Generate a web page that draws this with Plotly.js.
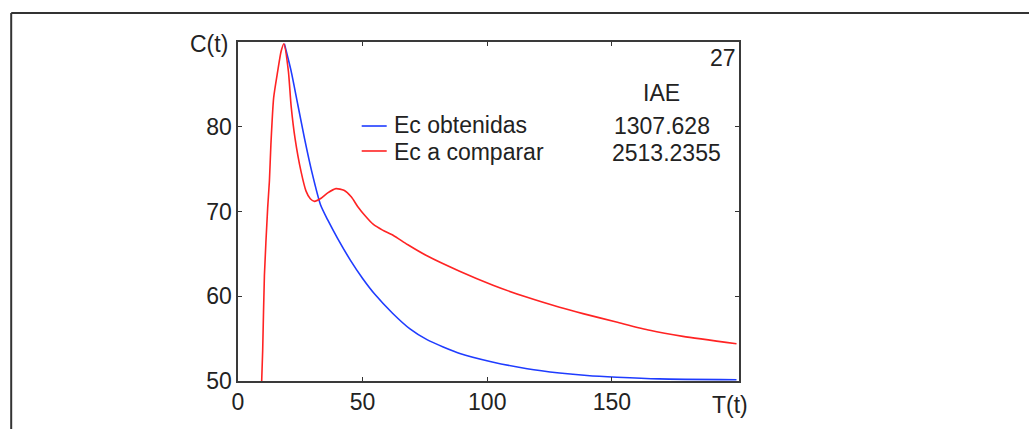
<!DOCTYPE html>
<html>
<head>
<meta charset="utf-8">
<script src="https://cdn.plot.ly/plotly-3.0.1.min.js"></script>
<style>
html,body{margin:0;padding:0;background:#fff;}
#chart{width:1029px;height:429px;}
</style>
</head>
<body>
<div id="chart"></div>
<script>
// Ec a comparar (red)
var redT = [9.5, 9.9, 10.6, 11.9, 12.6, 13.2, 14.3, 15.9, 17.3, 18.4, 20.2, 21.3, 22.9, 25.3, 27.3, 29.0, 30.7, 33.0, 36.0, 39.3, 42.5, 45.5, 48.0, 51.0, 54.2, 58.0, 62.2, 68.0, 75.6, 88.9, 102.3, 115.7, 129.0, 138.4, 151.8, 165.2, 178.5, 200.0];
var redC = [50.0, 53.6, 62.5, 70.4, 73.6, 77.9, 83.4, 86.5, 88.9, 89.8, 86.6, 82.5, 78.6, 74.7, 72.4, 71.5, 71.2, 71.5, 72.2, 72.7, 72.5, 71.7, 70.6, 69.5, 68.5, 67.8, 67.2, 66.1, 64.8, 62.95, 61.3, 59.9, 58.7, 57.95, 56.96, 55.98, 55.27, 54.4];
// Ec obtenidas (blue)
var blueT = [18.6, 21.3, 24.0, 26.7, 29.6, 33.1, 36.0, 40.0, 45.0, 50.0, 55.0, 62.0, 69.0, 76.0, 89.0, 102.0, 116.0, 129.0, 140.0, 152.0, 169.0, 200.0];
var blueC = [89.8, 86.6, 82.6, 78.6, 74.7, 70.8, 69.0, 66.8, 64.3, 62.1, 60.2, 58.0, 56.15, 54.85, 53.25, 52.25, 51.45, 50.95, 50.65, 50.45, 50.25, 50.15];

var seriesNames = ["Ec obtenidas", "Ec a comparar"];
var seriesColors = ["#1f3cff", "#ff2323"];
var iaeValues = ["1307.628", "2513.2355"];
var xTickVals = [0, 50, 100, 150];
var yTickVals = [50, 60, 70, 80, 90];
var yTickText = ["50", "60", "70", "80", ""];

var FONT = "Liberation Sans, Arial, Helvetica, sans-serif";
var TXT = "#222";

var traces = [
  {x: blueT, y: blueC, type: "scatter", mode: "lines", name: seriesNames[0],
   line: {color: seriesColors[0], width: 1.6, shape: "spline", smoothing: 0.6}},
  {x: redT, y: redC, type: "scatter", mode: "lines", name: seriesNames[1],
   line: {color: seriesColors[1], width: 1.6, shape: "spline", smoothing: 0.6}}
];

var ann = function (text, x, y, xa) {
  return {text: text, xref: "paper", yref: "paper", x: x, y: y, xanchor: xa,
          yanchor: "middle", showarrow: false, font: {family: FONT, size: 23, color: TXT}};
};

var layout = {
  width: 1029, height: 429,
  margin: {l: 238, r: 290, t: 42, b: 48, pad: 0},
  paper_bgcolor: "#fff", plot_bgcolor: "#fff",
  font: {family: FONT, size: 23, color: TXT},
  showlegend: false,
  xaxis: {range: [0, 201], tickvals: xTickVals, ticks: "inside", ticklen: 4,
          tickcolor: "#333", tickwidth: 1.2, showline: true, linecolor: "#3a3a3a",
          linewidth: 1.6, mirror: "ticks", showgrid: false, zeroline: false,
          tickfont: {family: FONT, size: 23, color: TXT}, fixedrange: true},
  yaxis: {range: [50, 90], tickvals: yTickVals, ticktext: yTickText, ticks: "inside",
          ticklen: 4, tickcolor: "#333", tickwidth: 1.2, showline: true,
          linecolor: "#3a3a3a", linewidth: 1.6, mirror: "ticks", showgrid: false,
          zeroline: false, tickfont: {family: FONT, size: 23, color: TXT}, fixedrange: true},
  annotations: [
    ann("C(t)", -0.016, 0.994, "right"),
    ann("T(t)", 0.9814, -0.071, "center"),
    ann("27", 0.998, 0.954, "right"),
    ann("IAE", 0.8447, 0.8487, "center"),
    ann(seriesNames[0], 0.3065, 0.7566, "left"),
    ann(seriesNames[1], 0.3065, 0.6755, "left"),
    ann(iaeValues[0], 0.746, 0.752, "left"),
    ann(iaeValues[1], 0.743, 0.6726, "left")
  ],
  shapes: [
    {type: "line", xref: "paper", yref: "paper", x0: 0.2469, x1: 0.2968, y0: 0.7522, y1: 0.7522, line: {color: seriesColors[0], width: 1.6}},
    {type: "line", xref: "paper", yref: "paper", x0: 0.2469, x1: 0.2968, y0: 0.6785, y1: 0.6785, line: {color: seriesColors[1], width: 1.6}},
    {type: "line", xref: "paper", yref: "paper", x0: -0.4527, x1: 1.6, y0: 1.0855, y1: 1.0855, line: {color: "#333", width: 2}},
    {type: "line", xref: "paper", yref: "paper", x0: -0.4527, x1: -0.4527, y0: 1.0855, y1: -0.2, line: {color: "#333", width: 2}}
  ]
};

Plotly.newPlot("chart", traces, layout, {displayModeBar: false, staticPlot: true});
</script>
</body>
</html>
